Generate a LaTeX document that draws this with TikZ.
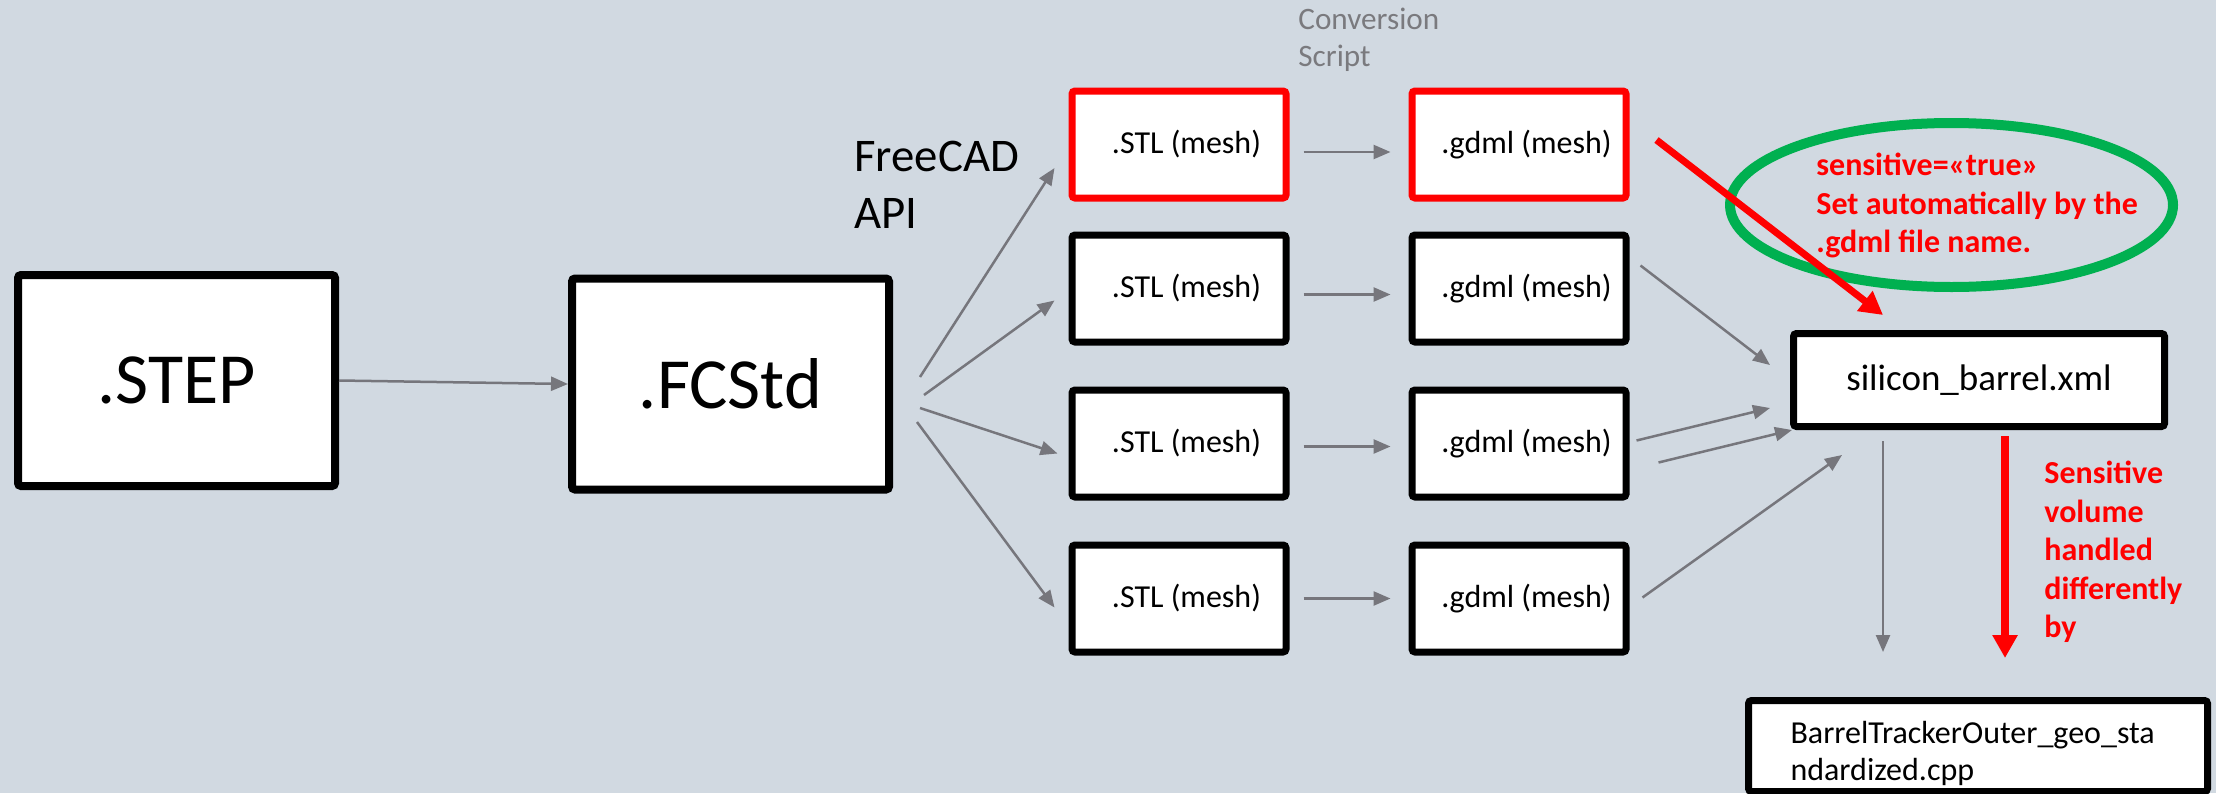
\documentclass[tikz,border=0pt]{standalone}
\usepackage{fontspec}
\setmainfont{Carlito}
\usepackage{tikz}
\usetikzlibrary{arrows.meta,positioning,shapes.geometric}
\definecolor{slideBg}{RGB}{209,217,225}
\definecolor{arrowGray}{RGB}{118,118,124}
\definecolor{noteGray}{RGB}{122,122,126}
\definecolor{alertRed}{RGB}{255,0,0}
\definecolor{ringGreen}{RGB}{0,176,80}
\tikzset{
  flow/.style={-{Triangle[length=8.5pt,width=7pt]}, line width=1.25pt, draw=arrowGray},
  alert/.style={-{Triangle[length=11.5pt,width=12pt]}, line width=3.5pt, draw=alertRed},
  bigfile/.style={draw=black, fill=white, line width=4pt, rounded corners=1.5pt, inner sep=0pt,
                  minimum width=158.5pt, minimum height=105.5pt, font=\fontsize{36}{43}\selectfont},
  meshfile/.style={draw=black, fill=white, line width=3.5pt, rounded corners=1.5pt, inner sep=0pt,
                   minimum width=107pt, minimum height=53.5pt, font=\fontsize{16}{19}\selectfont,
                   execute at begin node={\hspace*{7.5pt}}},
  picked/.style={meshfile, draw=alertRed},
  xmlfile/.style={draw=black, fill=white, line width=3.5pt, rounded corners=1.5pt, inner sep=0pt,
                  minimum width=185.5pt, minimum height=46.5pt, font=\fontsize{18.5}{22}\selectfont},
  cppfile/.style={draw=black, fill=white, line width=3.5pt, rounded corners=1.5pt, inner xsep=21pt,
                  inner ysep=0pt, text width=187.5pt, align=left, minimum height=45.5pt,
                  font=\fontsize{16}{18.5}\selectfont, execute at begin node={\rule{0pt}{19pt}}},
  ring/.style={ellipse, draw=ringGreen, line width=5pt, inner sep=0pt,
               minimum width=221.5pt, minimum height=82pt},
  remark/.style={anchor=north west, inner sep=0pt, align=left, text=alertRed,
                 font=\bfseries\fontsize{16}{19.25}\selectfont},
  toolnote/.style={anchor=north west, inner sep=0pt, align=left}
}

\begin{document}
\begin{tikzpicture}[x=0.5pt, y=-0.5pt]
  \path[use as bounding box, fill=slideBg] (0,0) rectangle (2216,793);
  \clip (0,0) rectangle (2216,793);
  % source files
  \node[bigfile] (step) at (176.5,380.5) {.STEP};
  \node[bigfile, right=114.5pt of step, yshift=-1.75pt] (fcstd) {.FCStd};
  \node[toolnote, font=\fontsize{23.4}{28.5}\selectfont] (api) at (854,141) {FreeCAD\\API};
  % mesh files
  \node[picked] (stl1) at (1179,144.5) {.STL (mesh)};
  \node[meshfile, below=15pt of stl1] (stl2) {.STL (mesh)};
  \node[meshfile, below=20.5pt of stl2] (stl3) {.STL (mesh)};
  \node[meshfile, below=20.5pt of stl3] (stl4) {.STL (mesh)};
  \node[picked, right=59.5pt of stl1] (gdml1) {.gdml (mesh)};
  \node[meshfile, right=59.5pt of stl2] (gdml2) {.gdml (mesh)};
  \node[meshfile, right=59.5pt of stl3] (gdml3) {.gdml (mesh)};
  \node[meshfile, right=59.5pt of stl4] (gdml4) {.gdml (mesh)};
  \node[toolnote, text=noteGray, font=\fontsize{15.6}{18.5}\selectfont] (script) at (1298,8) {Conversion\\Script};
  % detector description
  \node[xmlfile] (silicon) at (1979,380) {silicon\_barrel.xml};
  \node[cppfile] (cpp) at (1978,746) {BarrelTrackerOuter\_geo\_sta\\ndardized.cpp};
  \node[ring] (ring) at (1951.5,205) {};
  \node[remark] (autoset) at (1816,153) {sensitive=«true»\\Set automatically by the\\.gdml file name.};
  \node[remark] (handled) at (2044,461) {Sensitive\\volume\\handled\\differently\\by};
  % connectors
  \draw[flow] (step.east) -- (fcstd.west);
  \draw[flow] ([xshift=13.5pt,yshift=3.5pt]fcstd.east) -- ([xshift=-7pt,yshift=-11.75pt]stl1.west);
  \draw[flow] ([xshift=15.5pt,yshift=-5.5pt]fcstd.east) -- ([xshift=-7pt,yshift=-6pt]stl2.west);
  \draw[flow] ([xshift=13.5pt,yshift=-12pt]fcstd.east) -- ([xshift=-5.5pt,yshift=-5pt]stl3.west);
  \draw[flow] ([xshift=12pt,yshift=-19pt]fcstd.east) -- ([xshift=-7pt,yshift=-4.5pt]stl4.west);
  \draw[flow, shorten <=7pt, shorten >=9pt] ([yshift=-3.75pt]stl1.east) -- ([yshift=-3.75pt]gdml1.west);
  \draw[flow, shorten <=7pt, shorten >=9pt] ([yshift=-3pt]stl2.east) -- ([yshift=-3pt]gdml2.west);
  \draw[flow, shorten <=7pt, shorten >=9pt] ([yshift=-1.5pt]stl3.east) -- ([yshift=-1.5pt]gdml3.west);
  \draw[flow, shorten <=7pt, shorten >=9pt] (stl4.east) -- (gdml4.west);
  \draw[flow] ([xshift=5.5pt,yshift=11.5pt]gdml2.east) -- ([xshift=-10pt,yshift=7.5pt]silicon.west);
  \draw[flow] ([xshift=3.5pt,yshift=1.5pt]gdml3.east) -- ([xshift=-10pt,yshift=-14pt]silicon.west);
  \draw[flow] ([xshift=14.5pt,yshift=-9.5pt]gdml3.east) -- ([xshift=1pt]silicon.south west);
  \draw[flow] ([xshift=6.5pt,yshift=0.5pt]gdml4.east) -- ([xshift=26pt,yshift=-12.5pt]silicon.south west);
  \draw[flow] ([xshift=46.5pt,yshift=-5.5pt]silicon.south west) -- ([xshift=69pt,yshift=22.5pt]cpp.north west);
  \draw[alert, line width=4pt] ([xshift=13pt,yshift=-3pt]silicon.south) -- ([xshift=13.5pt,yshift=19.5pt]cpp.north);
  \draw[alert] ([xshift=13.5pt,yshift=2.25pt]gdml1.east) -- ([xshift=46.5pt,yshift=7.5pt]silicon.north west);
\end{tikzpicture}
\end{document}
